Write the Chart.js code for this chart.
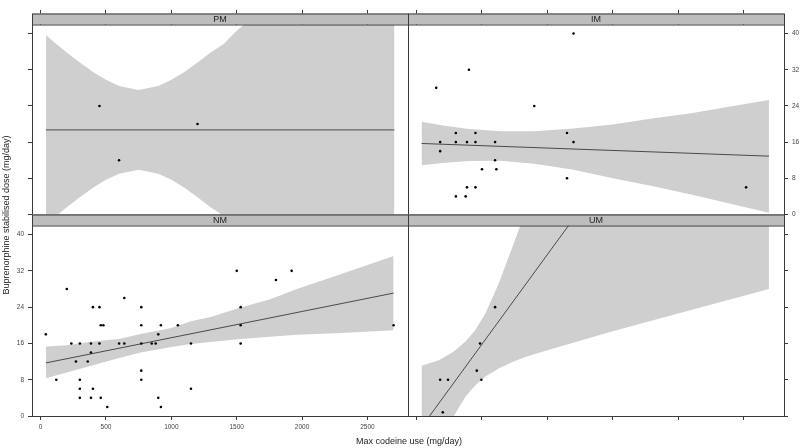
<!DOCTYPE html>
<html>
<head>
<meta charset="utf-8">
<title>Buprenorphine vs codeine</title>
<script src="https://cdn.jsdelivr.net/npm/chart.js@4.4.1/dist/chart.umd.min.js"></script>
<style>
  body { margin: 0; background: #fff; }
  #wrap { position: relative; width: 800px; height: 448px; font-family: "Liberation Sans", Arial, sans-serif; color: #222; }
  #wrap canvas { position: absolute; left: 0; top: 0; }
  .ytitle { position: absolute; left: -104px; top: 210px; width: 220px; height: 10px; line-height: 10px; text-align: center; transform: rotate(-90deg); font-size: 9px; white-space: nowrap; }
  .xtitle { position: absolute; left: 299px; top: 436px; width: 220px; height: 10px; line-height: 10px; text-align: center; font-size: 9px; white-space: nowrap; }
</style>
</head>
<body>
<div id="wrap">
  <canvas id="cPM" width="800" height="448"></canvas>
  <canvas id="cIM" width="800" height="448"></canvas>
  <canvas id="cNM" width="800" height="448"></canvas>
  <canvas id="cUM" width="800" height="448"></canvas>
  <div class="ytitle">Buprenorphine stabilised dose (mg/day)</div>
  <div class="xtitle">Max codeine use (mg/day)</div>
</div>
<script>
// axis ticks
const xTicks = [0, 500, 1000, 1500, 2000, 2500];
const yTicks = [0, 8, 16, 24, 32, 40];

// PM
const pmCodeine = [450, 600, 1200];
const pmDose = [24, 12, 20];
const pmFitX = [41, 2706];
const pmFitY = [18.7, 18.7];
const pmBandX = [41, 120, 200, 300, 400, 500, 600, 750, 900, 1000, 1100, 1200, 1300, 1400, 1500, 1600, 1800, 2000, 2706];
const pmBandLow = [-2.2, -0.3, 1.6, 3.8, 5.9, 7.7, 9.0, 9.9, 9.0, 7.7, 5.9, 3.8, 1.6, -0.3, -3.2, -5.7, -10.7, -15.9, -35];
const pmBandHigh = [39.6, 37.7, 35.8, 33.6, 31.5, 29.8, 28.4, 27.5, 28.4, 29.8, 31.5, 33.6, 35.8, 37.7, 40.6, 43.1, 48.1, 53.3, 72];

// IM
const imCodeine = [1200, 400, 150, 900, 300, 450, 1150, 180, 300, 385, 450, 600, 1200, 180, 600, 500, 610, 1150, 385, 450, 2520, 300, 375];
const imDose = [40, 32, 28, 24, 18, 18, 18, 16, 16, 16, 16, 16, 16, 14, 12, 10, 10, 8, 6, 6, 6, 4, 4];
const imFitX = [38, 2695];
const imFitY = [15.7, 12.9];
const imBandX = [38, 200, 400, 640, 900, 1200, 1500, 1800, 2100, 2400, 2695];
const imBandLow = [10.9, 11.4, 11.8, 11.9, 11.2, 9.9, 8.0, 6.3, 4.4, 2.4, 0.4];
const imBandHigh = [20.5, 19.7, 18.9, 18.4, 18.4, 19.0, 19.9, 21.2, 22.4, 23.9, 25.3];

// NM
const nmCodeine = [40, 120, 200, 235, 270, 300, 300, 300, 300, 360, 385, 385, 385, 400, 400, 450, 450, 460, 460, 480, 510,
  600, 640, 640, 770, 770, 770, 770, 770, 850, 880, 900, 900, 920, 920, 1050, 1150, 1150, 1500, 1530, 1530, 1530, 1800, 1920, 2700];
const nmDose = [18, 8, 28, 16, 12, 16, 8, 6, 4, 12, 16, 14, 4, 24, 6, 24, 16, 4, 20, 20, 2,
  16, 26, 16, 24, 20, 16, 10, 8, 16, 16, 18, 4, 20, 2, 20, 16, 6, 32, 24, 20, 16, 30, 32, 20];
const nmFitX = [40, 2700];
const nmFitY = [11.7, 27.1];
const nmBandX = [40, 200, 400, 600, 765, 1000, 1150, 1300, 1530, 1750, 1960, 2300, 2700];
const nmBandLow = [8.3, 9.6, 11.2, 12.8, 14.0, 15.2, 15.9, 16.3, 17.0, 17.5, 17.9, 18.3, 18.9];
const nmBandHigh = [15.3, 15.6, 16.4, 17.0, 18.1, 19.4, 20.9, 21.8, 23.9, 25.7, 28.0, 31.3, 35.3];

// UM
const umCodeine = [180, 240, 200, 460, 485, 495, 600];
const umDose = [8, 8, 0.8, 10, 16, 8, 24];
const umFitX = [41, 2706];
const umFitY = [-2.3, 103];
const umBandX = [38, 170, 285, 374, 450, 526, 628, 742, 831, 1000, 1500, 2000, 2695];
const umBandLow = [-15, -8, 0, 4.3, 6.8, 8.7, 10.5, 12.0, 13.0, 14.5, 18.7, 22.6, 28.0];
const umBandHigh = [11.1, 12.3, 14.2, 16.4, 19.0, 22.6, 29.2, 38.0, 45, 56, 85, 115, 185];

const X_MIN = -66;
const X_MAX = 2810;
const Y_MIN = 0;
const Y_MAX = 42;

const STRIP_H = 11;
const X_AXIS_H = 20;
const Y_AXIS_W = 30;
const Y_AXIS_W_R = 16;

const bandColor = "#cfcfcf";
const stripColor = "#bdbdbd";
const frameColor = "#3a3a3a";
const tickFont = { size: 6.5, family: '"Liberation Sans", Arial, sans-serif' };

function pairs(xs, ys) {
  return xs.map((x, i) => ({ x: x, y: ys[i] }));
}

// strip + frame, drawn last so the top ticks pass under the strip
const latticeFrame = {
  id: "latticeFrame",
  afterDraw(chart, args, opts) {
    const ctx = chart.ctx;
    const a = chart.chartArea;
    const top = a.top - STRIP_H;
    ctx.save();
    ctx.fillStyle = stripColor;
    ctx.fillRect(a.left, top, a.right - a.left, STRIP_H);
    ctx.strokeStyle = frameColor;
    ctx.lineWidth = 1;
    ctx.strokeRect(a.left + 0.5, top + 0.5, a.right - a.left, a.bottom - top);
    ctx.beginPath();
    ctx.moveTo(a.left, a.top + 0.5);
    ctx.lineTo(a.right, a.top + 0.5);
    ctx.stroke();
    ctx.fillStyle = "#222";
    ctx.font = '9px "Liberation Sans", Arial, sans-serif';
    ctx.textAlign = "center";
    ctx.textBaseline = "middle";
    ctx.fillText(opts.title, (a.left + a.right) / 2, top + STRIP_H / 2 + 0.5);
    ctx.restore();
  },
};

function makePanel(id, title, codeine, dose, fitX, fitY, bandX, bandLow, bandHigh, box) {
  const padding = {
    left: box.yPos === "left" ? box.left - Y_AXIS_W : box.left,
    right: box.yPos === "right" ? 800 - box.right - Y_AXIS_W_R : 800 - box.right,
    top: box.xPos === "top" ? box.top - X_AXIS_H : box.top,
    bottom: box.xPos === "bottom" ? 448 - box.bottom - X_AXIS_H : 448 - box.bottom,
  };

  return new Chart(document.getElementById(id), {
    type: "scatter",
    data: {
      datasets: [
        {
          label: "points",
          data: pairs(codeine, dose),
          pointRadius: 1.3,
          pointBackgroundColor: "#000",
          pointBorderWidth: 0,
          clip: 2,
        },
        {
          label: "fit",
          data: pairs(fitX, fitY),
          showLine: true,
          borderColor: "#4a4a4a",
          borderWidth: 1,
          pointRadius: 0,
          clip: 0,
        },
        {
          label: "upper",
          data: pairs(bandX, bandHigh),
          showLine: true,
          borderColor: "rgba(0,0,0,0)",
          borderWidth: 0,
          pointRadius: 0,
          fill: "+1",
          backgroundColor: bandColor,
          clip: 0,
        },
        {
          label: "lower",
          data: pairs(bandX, bandLow),
          showLine: true,
          borderColor: "rgba(0,0,0,0)",
          borderWidth: 0,
          pointRadius: 0,
          clip: 0,
        },
      ],
    },
    options: {
      responsive: false,
      animation: false,
      events: [],
      layout: { padding: padding },
      plugins: {
        legend: { display: false },
        tooltip: { enabled: false },
        latticeFrame: { title: title },
      },
      scales: {
        x: {
          type: "linear",
          position: box.xPos,
          min: X_MIN,
          max: X_MAX,
          afterBuildTicks: (s) => {
            s.ticks = xTicks.map((v) => ({ value: v }));
          },
          afterFit: (s) => {
            s.height = X_AXIS_H;
          },
          ticks: {
            display: box.xLabels,
            autoSkip: false,
            maxRotation: 0,
            padding: box.xPos === "top" ? 4 : 3,
            color: "#444",
            font: tickFont,
            callback: (v) => String(v),
          },
          grid: {
            drawOnChartArea: false,
            drawTicks: true,
            tickLength: box.xPos === "top" ? 14.5 : 4,
            color: frameColor,
          },
          border: { display: false },
        },
        y: {
          type: "linear",
          position: box.yPos,
          min: Y_MIN,
          max: Y_MAX,
          afterBuildTicks: (s) => {
            s.ticks = yTicks.map((v) => ({ value: v }));
          },
          afterFit: (s) => {
            s.width = box.yPos === "left" ? Y_AXIS_W : Y_AXIS_W_R;
          },
          ticks: {
            display: box.yLabels,
            autoSkip: false,
            padding: 4,
            color: "#444",
            font: tickFont,
            callback: (v) => String(v),
          },
          grid: {
            drawOnChartArea: false,
            drawTicks: true,
            tickLength: 4,
            color: frameColor,
          },
          border: { display: false },
        },
      },
    },
    plugins: [latticeFrame],
  });
}

makePanel("cPM", "PM", pmCodeine, pmDose, pmFitX, pmFitY, pmBandX, pmBandLow, pmBandHigh,
  { left: 32, right: 408, top: 24.5, bottom: 214.5, xPos: "top", yPos: "left", xLabels: false, yLabels: false });
makePanel("cIM", "IM", imCodeine, imDose, imFitX, imFitY, imBandX, imBandLow, imBandHigh,
  { left: 408, right: 784, top: 24.5, bottom: 214.5, xPos: "top", yPos: "right", xLabels: true, yLabels: true });
makePanel("cNM", "NM", nmCodeine, nmDose, nmFitX, nmFitY, nmBandX, nmBandLow, nmBandHigh,
  { left: 32, right: 408, top: 225.5, bottom: 416, xPos: "bottom", yPos: "left", xLabels: true, yLabels: true });
makePanel("cUM", "UM", umCodeine, umDose, umFitX, umFitY, umBandX, umBandLow, umBandHigh,
  { left: 408, right: 784, top: 225.5, bottom: 416, xPos: "bottom", yPos: "right", xLabels: false, yLabels: false });
</script>
</body>
</html>
